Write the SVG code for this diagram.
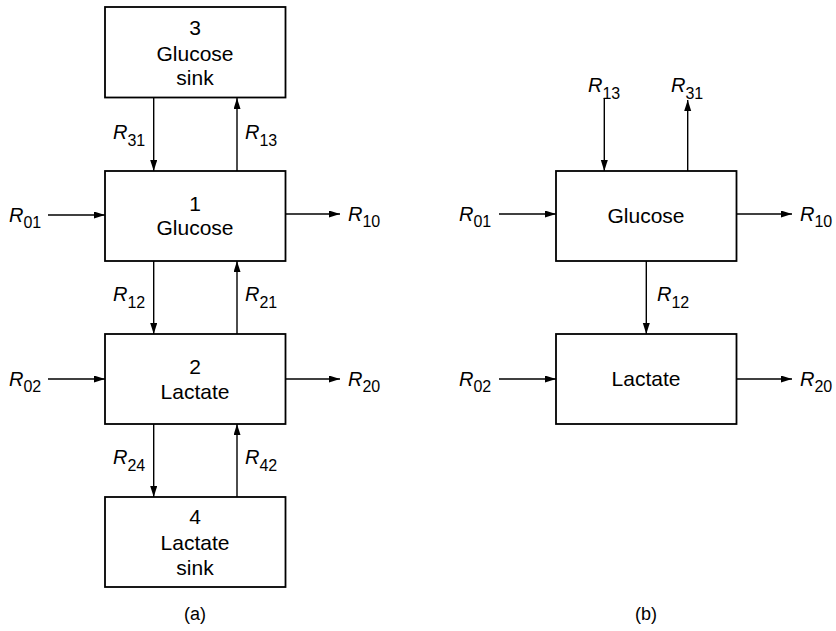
<svg xmlns="http://www.w3.org/2000/svg" width="836" height="631" viewBox="0 0 836 631">
<style>
.box{fill:#fff;stroke:#000;stroke-width:1.8}
.t{font-family:"Liberation Sans",Arial,sans-serif;font-size:21px;text-anchor:middle;fill:#000}
.r{font-family:"Liberation Sans",Arial,sans-serif;font-size:20px;font-style:italic;fill:#000}
.s{font-size:16px;font-style:normal}
.c{stroke:#000;stroke-width:1.4;fill:none;marker-end:url(#ah)}
</style>
<defs>
<marker id="ah" markerUnits="userSpaceOnUse" markerWidth="11" markerHeight="8" refX="11" refY="3.5" orient="auto">
<path d="M0,0 L11,3.5 L0,7 z" fill="#000"/>
</marker>
</defs>
<rect width="836" height="631" fill="#fff"/>

<g id="a-sink3"><rect class="box" x="105" y="7" width="180.5" height="90.5"/>
<text class="t" x="195" y="35">3</text><text class="t" x="195" y="61">Glucose</text><text class="t" x="195" y="85">sink</text></g>
<g id="a-glucose"><rect class="box" x="105" y="171" width="180.5" height="90"/>
<text class="t" x="195" y="211">1</text><text class="t" x="195" y="235">Glucose</text></g>
<g id="a-lactate"><rect class="box" x="105" y="334" width="180.5" height="90"/>
<text class="t" x="195" y="374">2</text><text class="t" x="195" y="399">Lactate</text></g>
<g id="a-sink4"><rect class="box" x="105" y="497" width="180.5" height="90"/>
<text class="t" x="195" y="524">4</text><text class="t" x="195" y="550">Lactate</text><text class="t" x="195" y="575">sink</text></g>

<g id="b-glucose"><rect class="box" x="556" y="171" width="180.5" height="90"/>
<text class="t" x="646" y="223">Glucose</text></g>
<g id="b-lactate"><rect class="box" x="556" y="334" width="180.5" height="90"/>
<text class="t" x="646" y="386">Lactate</text></g>

<g id="connectors">
<line class="c" x1="153.7" y1="98" x2="153.7" y2="171"/>
<line class="c" x1="237" y1="171" x2="237" y2="98"/>
<line class="c" x1="153.7" y1="261" x2="153.7" y2="334"/>
<line class="c" x1="237" y1="334" x2="237" y2="261"/>
<line class="c" x1="153.7" y1="424" x2="153.7" y2="497"/>
<line class="c" x1="237" y1="497" x2="237" y2="424"/>
<line class="c" x1="48" y1="215" x2="105" y2="215"/>
<line class="c" x1="48" y1="379" x2="105" y2="379"/>
<line class="c" x1="285.5" y1="214" x2="340" y2="214"/>
<line class="c" x1="285.5" y1="379" x2="340" y2="379"/>

<line class="c" x1="604.3" y1="98" x2="604.3" y2="171"/>
<line class="c" x1="687.7" y1="171" x2="687.7" y2="100"/>
<line class="c" x1="646.3" y1="261" x2="646.3" y2="334"/>
<line class="c" x1="499" y1="214" x2="556" y2="214"/>
<line class="c" x1="499" y1="379" x2="556" y2="379"/>
<line class="c" x1="736.5" y1="214" x2="792" y2="214"/>
<line class="c" x1="736.5" y1="379" x2="792" y2="379"/>
</g>

<g id="labels">
<text class="r" x="113" y="138.5">R<tspan class="s" dy="7">31</tspan></text>
<text class="r" x="245" y="138.5">R<tspan class="s" dy="7">13</tspan></text>
<text class="r" x="113" y="301">R<tspan class="s" dy="7">12</tspan></text>
<text class="r" x="245" y="301">R<tspan class="s" dy="7">21</tspan></text>
<text class="r" x="113" y="464">R<tspan class="s" dy="7">24</tspan></text>
<text class="r" x="245" y="464">R<tspan class="s" dy="7">42</tspan></text>
<text class="r" x="9" y="221.5">R<tspan class="s" dy="6">01</tspan></text>
<text class="r" x="9" y="386">R<tspan class="s" dy="6">02</tspan></text>
<text class="r" x="348" y="221">R<tspan class="s" dy="6">10</tspan></text>
<text class="r" x="348" y="386">R<tspan class="s" dy="6">20</tspan></text>

<text class="r" x="588" y="91.5">R<tspan class="s" dy="7">13</tspan></text>
<text class="r" x="671" y="91.5">R<tspan class="s" dy="7">31</tspan></text>
<text class="r" x="657" y="301">R<tspan class="s" dy="7">12</tspan></text>
<text class="r" x="459" y="221">R<tspan class="s" dy="6">01</tspan></text>
<text class="r" x="459" y="386">R<tspan class="s" dy="6">02</tspan></text>
<text class="r" x="800" y="221">R<tspan class="s" dy="6">10</tspan></text>
<text class="r" x="800" y="386">R<tspan class="s" dy="6">20</tspan></text>
</g>

<text class="t" x="195" y="620" style="font-size:18px">(a)</text>
<text class="t" x="646" y="620" style="font-size:18px">(b)</text>
</svg>
